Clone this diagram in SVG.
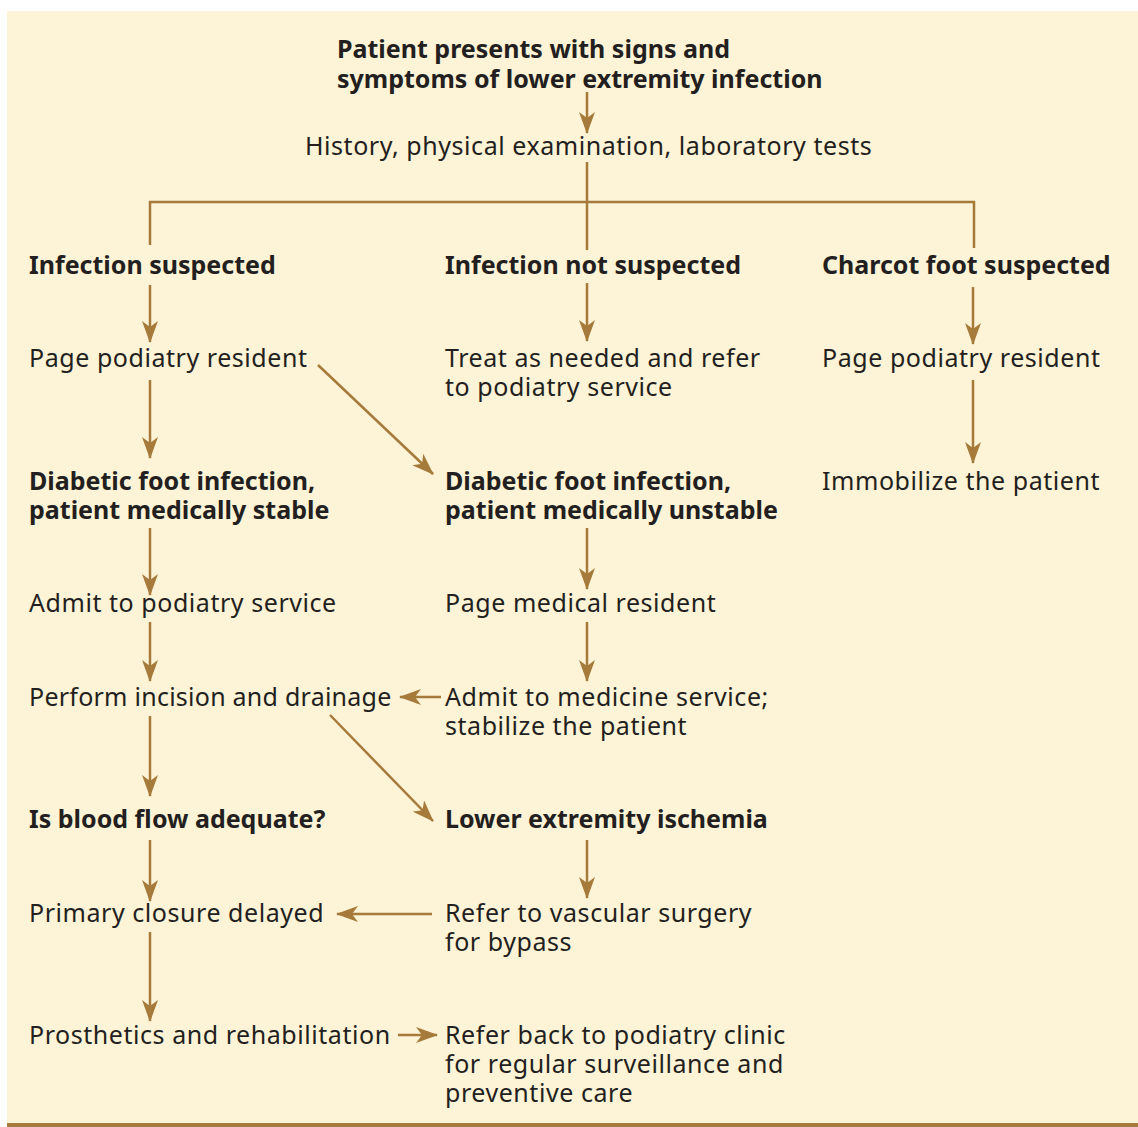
<svg xmlns="http://www.w3.org/2000/svg" width="1138" height="1127" viewBox="0 0 1138 1127">
<style>
text{font-family:"Noto Sans","Open Sans",sans-serif;font-size:25px;fill:#231f20;letter-spacing:0.55px}
.b{font-weight:bold;letter-spacing:0}
.c{stroke:#a57a3a;stroke-width:2.5;fill:none}
.a{marker-end:url(#ah)}
</style>
<defs>
<marker id="ah" markerUnits="userSpaceOnUse" markerWidth="22" markerHeight="16" viewBox="0 0 22 16" refX="21" refY="8" orient="auto">
<path d="M0,0 L22,8 L0,16 L6,8 z" fill="#a57a3a"/>
</marker>
</defs>
<rect x="7" y="11" width="1131" height="1113" fill="#fdf3d6"/>
<rect x="7" y="1123" width="1131" height="4" fill="#a57a3a"/>
<g id="connectors">
<path class="c a" d="M587,92 V133"/>
<path class="c" d="M587,162 V250"/>
<path class="c" d="M150,245 V202 H974 V248"/>
<path class="c a" d="M150,285 V342"/>
<path class="c a" d="M587,283 V341"/>
<path class="c a" d="M973,287 V344"/>
<path class="c a" d="M150,380 V458"/>
<path class="c a" d="M318,365 L433,474"/>
<path class="c a" d="M973,380 V463"/>
<path class="c a" d="M150,528 V595"/>
<path class="c a" d="M587,528 V589"/>
<path class="c a" d="M150,622 V681"/>
<path class="c a" d="M587,622 V681"/>
<path class="c a" d="M441,697 H400"/>
<path class="c a" d="M150,716 V796"/>
<path class="c a" d="M330,715 L433,821"/>
<path class="c a" d="M587,840 V898"/>
<path class="c a" d="M150,840 V901"/>
<path class="c a" d="M432,914 H337"/>
<path class="c a" d="M150,932 V1021"/>
<path class="c a" d="M398,1035 H437"/>
</g>
<g id="n-start"><text class="b" x="337" y="58">Patient presents with signs and</text><text class="b" x="337" y="88">symptoms of lower extremity infection</text></g>
<g id="n-history"><text x="305" y="155">History, physical examination, laboratory tests</text></g>
<g id="n-inf"><text class="b" x="29" y="274">Infection suspected</text></g>
<g id="n-notinf"><text class="b" x="445" y="274">Infection not suspected</text></g>
<g id="n-charcot"><text class="b" x="822" y="274">Charcot foot suspected</text></g>
<g id="n-page1"><text x="29" y="367">Page podiatry resident</text></g>
<g id="n-treat"><text x="445" y="367">Treat as needed and refer</text><text x="445" y="396">to podiatry service</text></g>
<g id="n-page2"><text x="822" y="367">Page podiatry resident</text></g>
<g id="n-stable"><text class="b" x="29" y="490">Diabetic foot infection,</text><text class="b" x="29" y="519">patient medically stable</text></g>
<g id="n-unstable"><text class="b" x="445" y="490">Diabetic foot infection,</text><text class="b" x="445" y="519">patient medically unstable</text></g>
<g id="n-immob"><text x="822" y="490">Immobilize the patient</text></g>
<g id="n-admitpod"><text x="29" y="612">Admit to podiatry service</text></g>
<g id="n-pagemed"><text x="445" y="612">Page medical resident</text></g>
<g id="n-incision"><text x="29" y="706" style="letter-spacing:0.25px">Perform incision and drainage</text></g>
<g id="n-admitmed"><text x="445" y="706">Admit to medicine service;</text><text x="445" y="735">stabilize the patient</text></g>
<g id="n-blood"><text class="b" x="29" y="828">Is blood flow adequate?</text></g>
<g id="n-ischemia"><text class="b" x="445" y="828">Lower extremity ischemia</text></g>
<g id="n-closure"><text x="29" y="922">Primary closure delayed</text></g>
<g id="n-vascular"><text x="445" y="922">Refer to vascular surgery</text><text x="445" y="951">for bypass</text></g>
<g id="n-prosth"><text x="29" y="1044">Prosthetics and rehabilitation</text></g>
<g id="n-referback"><text x="445" y="1044">Refer back to podiatry clinic</text><text x="445" y="1073">for regular surveillance and</text><text x="445" y="1102">preventive care</text></g>
</svg>
